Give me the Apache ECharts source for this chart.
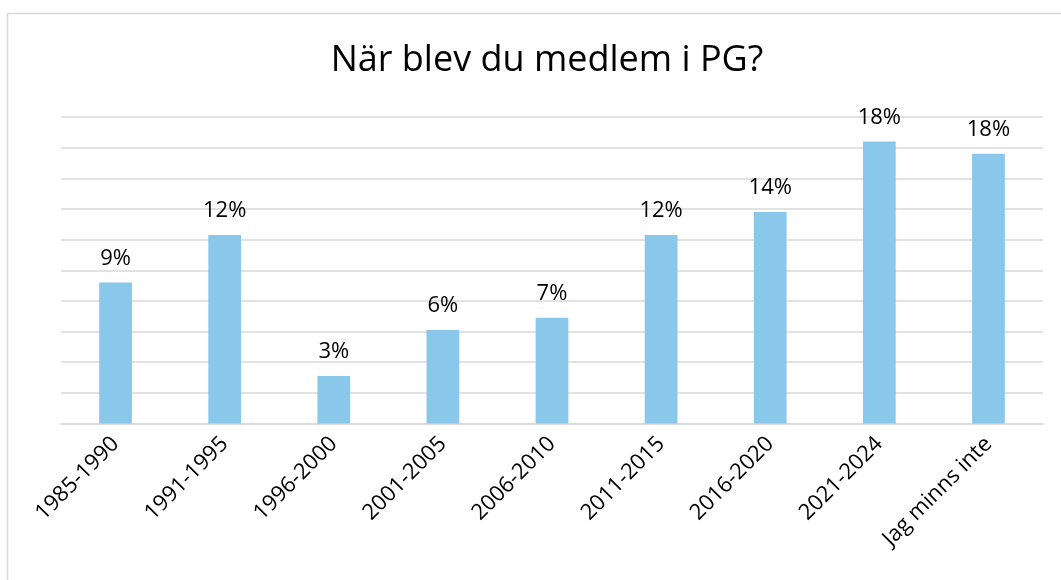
<!DOCTYPE html>
<html>
<head>
<meta charset="utf-8">
<title>När blev du medlem i PG?</title>
<script src="https://cdn.jsdelivr.net/npm/echarts@6/dist/echarts.min.js"></script>
<style>
  html, body { margin: 0; padding: 0; background: #fff; }
  #chart { width: 1061px; height: 580px; }
</style>
</head>
<body>
<div id="chart"></div>
<script>
// kategorier (x-axel)
const categories = [
  '1985-1990',
  '1991-1995',
  '1996-2000',
  '2001-2005',
  '2006-2010',
  '2011-2015',
  '2016-2020',
  '2021-2024',
  'Jag minns inte',
];
// andel i procent, avläst från stapelhöjden
const shares = [9.2, 12.3, 3.1, 6.1, 6.9, 12.3, 13.8, 18.4, 17.6];

const fontFamily = '"Open Sans", Lato, sans-serif';

const myChart = echarts.init(document.getElementById('chart'));

const option = {
  backgroundColor: '#fff',
  animation: false,
  title: {
    text: 'När blev du medlem i PG?',
    left: 542,
    top: 38,
    textAlign: 'center',
    textStyle: {
      fontFamily,
      fontSize: 36,
      fontWeight: 'normal',
      color: '#000',
    },
  },
  graphic: [
    {
      type: 'rect',
      shape: { x: 7.5, y: 13.5, width: 1100, height: 620 },
      style: { fill: 'none', stroke: '#d9d9d9', lineWidth: 1.5 },
      silent: true,
      z: -1,
    },
  ],
  grid: {
    left: 61,
    right: 18,
    top: 117,
    bottom: 156.5,
  },
  xAxis: {
    type: 'category',
    data: categories,
    axisLine: { show: true, lineStyle: { color: '#d9d9d9', width: 1.5 } },
    axisTick: { show: false },
    axisLabel: {
      rotate: 45,
      margin: 17,
      interval: 0,
      fontFamily,
      fontSize: 22,
      color: '#000',
    },
  },
  yAxis: {
    type: 'value',
    min: 0,
    max: 20,
    interval: 2,
    axisLine: { show: false },
    axisTick: { show: false },
    axisLabel: { show: false },
    splitLine: { show: true, lineStyle: { color: '#d9d9d9', width: 1.5 } },
  },
  series: [
    {
      type: 'bar',
      data: shares,
      barWidth: '30%',
      itemStyle: { color: '#89c7eb' },
      label: {
        show: true,
        position: 'top',
        distance: 13,
        fontFamily,
        fontSize: 22,
        color: '#000',
        formatter(p) {
          return Math.round(p.value) + '%';
        },
      },
    },
  ],
};

myChart.setOption(option);

window.addEventListener('resize', function () {
  myChart.resize();
});
</script>
</body>
</html>
